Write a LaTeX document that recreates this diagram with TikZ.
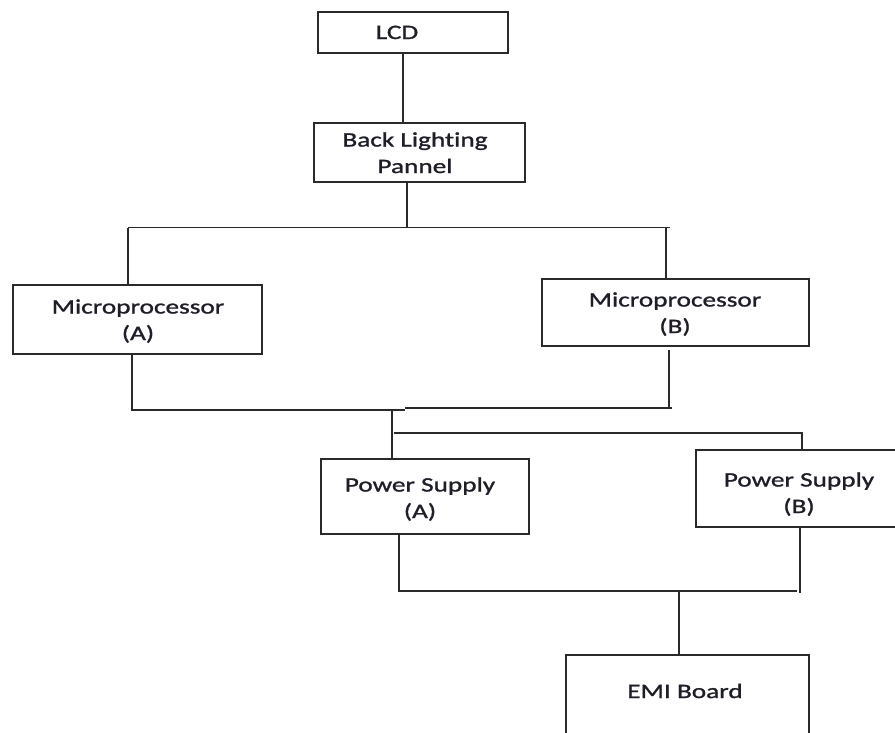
\documentclass[tikz,border=0pt]{standalone}
\usepackage{fontspec}
\setmainfont{Carlito}[FakeStretch=1.33,FakeBold=1.2,Ligatures=NoCommon]
\definecolor{ln}{HTML}{2A2A2A}
\definecolor{tx}{HTML}{1E1E28}
\begin{document}
\begin{tikzpicture}[x=1pt,y=-1pt,
  box/.style={draw=ln, line width=1.8pt, rectangle, inner sep=0pt, anchor=north west},
  txt/.style={text=tx, inner sep=0pt, align=center, anchor=base, font=\fontsize{20.5}{26.5}\selectfont},
  wire/.style={draw=ln, line width=1.8pt}]
\useasboundingbox (0,0) rectangle (895,732);
\fill[white] (0,0) rectangle (895,732);
% boxes
\node[box, minimum width=190pt, minimum height=41pt] (lcd) at (317,11) {};
\node[box, minimum width=211pt, minimum height=59pt] (blp) at (313,122) {};
\node[box, minimum width=249pt, minimum height=69pt] (ma) at (12,284) {};
\node[box, minimum width=267pt, minimum height=67pt] (mb) at (541,278) {};
\node[box, minimum width=208pt, minimum height=75pt] (pa) at (320,458) {};
\node[box, minimum width=215pt, minimum height=77pt] (pb) at (695,449) {};
\node[box, minimum width=243pt, minimum height=100pt] (emi) at (565,654) {};
% texts (base anchor = last line baseline)
\node[txt] (lcdT) at (397,39) {LCD};
\node[txt] (blpT) at (415,173) {Back Lighting\\Pannel};
\node[txt] (maT) at (138,340) {Microprocessor\\(A)};
\node[txt] (mbT) at (675,333) {Microprocessor\\(B)};
\node[txt] (paT) at (420,518) {Power Supply\\(A)};
\node[txt] (pbT) at (799,513) {Power Supply\\(B)};
\node[txt] (emiT) at (685,698) {EMI Board};
% coordinates
\coordinate (j1) at (403,0);
\coordinate (j2) at (406.7,0);
\coordinate (b1L) at (128,227.5);
\coordinate (b1M) at (406.7,227.5);
\coordinate (b1R) at (670,227.5);
\coordinate (b1r) at (666,227.5);
\coordinate (b2L) at (132,410);
\coordinate (b2S) at (405,410);
\coordinate (b2S2) at (405,408.3);
\coordinate (b2R) at (672,408.3);
\coordinate (b2Rv) at (669,408.3);
\coordinate (mbx) at (669,350);
\coordinate (b2M) at (391.7,410);
\coordinate (b3L) at (394,432.7);
\coordinate (b3R) at (802,432.7);
\coordinate (b4L) at (399,591);
\coordinate (b4R) at (797,591);
\coordinate (b4v) at (800,593);
\coordinate (b4M) at (679,591);
% connectors
\draw[wire] (j1 |- lcd.south) -- (j1 |- blp.north);
\draw[wire] (j2 |- blp.south) -- (b1M);
\draw[wire] (b1L) -- (b1R);
\draw[wire] (b1L) -- (b1L |- ma.north);
\draw[wire] (b1r) -- (b1r |- mb.north);
\draw[wire] (b2L |- ma.south) -- (b2L) -- (b2S);
\draw[wire] (b2S2) -- (b2R);
\draw[wire] (mbx) -- (b2Rv);
\draw[wire] (b2M) -- (b2M |- pa.north);
\draw[wire] (b3L) -- (b3R) -- (b3R |- pb.north);
\draw[wire] (b4L |- pa.south) -- (b4L) -- (b4R);
\draw[wire] (b4v |- pb.south) -- (b4v);
\draw[wire] (b4M) -- (b4M |- emi.north);
\end{tikzpicture}
\end{document}
